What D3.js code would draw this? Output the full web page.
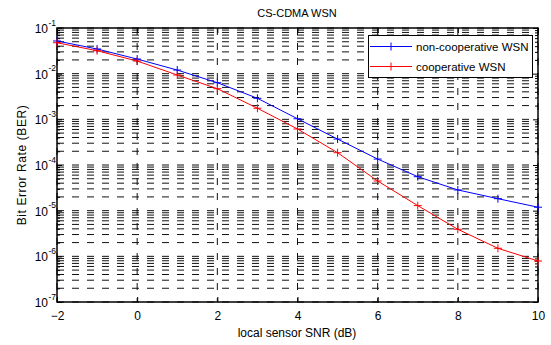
<!DOCTYPE html>
<html>
<head>
<meta charset="utf-8">
<script src="https://d3js.org/d3.v7.min.js"></script>
<style>
  body { margin: 0; background: #fff; font-family: "Liberation Sans", Arial, sans-serif; }
  svg text { fill: #000; }
</style>
</head>
<body>
<svg id="chart" width="551" height="345"></svg>
<script>
// SNR values (dB)
const snr = [-2, -1, 0, 1, 2, 3, 4, 5, 6, 7, 8, 9, 10];
// BER
const berNonCoop = [0.052, 0.0347, 0.0209, 0.012, 0.00634, 0.00289, 0.00103, 3.7e-4, 1.35e-4, 5.55e-5, 2.84e-5, 1.83e-5, 1.19e-5];
const berCoop = [0.0476, 0.0318, 0.0189, 0.00935, 0.00469, 0.00175, 6.15e-4, 1.86e-4, 4.46e-5, 1.29e-5, 3.91e-6, 1.5e-6, 7.9e-7];
const xTicks = [-2, 0, 2, 4, 6, 8, 10];
const yExps = [-7, -6, -5, -4, -3, -2, -1];
const seriesNames = ["non-cooperative WSN", "cooperative WSN"];
const seriesColors = ["#0000ff", "#ff0000"];

const m = { left: 57, top: 28, right: 538, bottom: 302 };
const svg = d3.select("#chart");

const x = d3.scaleLinear().domain([-2, 10]).range([m.left, m.right]);
const y = d3.scaleLog().domain([1e-7, 1e-1]).range([m.bottom, m.top]);

// grid (minor log grid + major x grid, dashed)
const grid = svg.append("g");
const minorVals = [];
yExps.slice(0, -1).forEach(e => {
  for (let k = 1; k <= 9; k++) minorVals.push(k * Math.pow(10, e));
});
minorVals.push(1e-1);
grid.selectAll("line.h").data(minorVals).enter().append("line")
  .attr("x1", m.left).attr("x2", m.right)
  .attr("y1", d => y(d)).attr("y2", d => y(d))
  .attr("stroke", "#111").attr("stroke-width", 1)
  .attr("stroke-dasharray", "7,8");
grid.selectAll("line.v").data(xTicks).enter().append("line")
  .attr("x1", d => x(d)).attr("x2", d => x(d))
  .attr("y1", m.top).attr("y2", m.bottom)
  .attr("stroke", "#111").attr("stroke-width", 1)
  .attr("stroke-dasharray", "7,8");

// axes
const xAxis = d3.axisBottom(x).tickValues(xTicks).tickSize(-5).tickFormat(d3.format("d"));
svg.append("g").attr("transform", `translate(0,${m.bottom})`).call(xAxis)
  .call(g => g.select(".domain").remove())
  .call(g => g.selectAll("text").attr("y", 9).attr("font-size", 12)
    .attr("font-family", "Liberation Sans, Arial, sans-serif"));
svg.append("g").attr("transform", `translate(0,${m.top})`)
  .call(d3.axisTop(x).tickValues(xTicks).tickSize(-5).tickFormat(""))
  .call(g => g.select(".domain").remove());

const yMajor = yExps.map(e => Math.pow(10, e));
const yMinor = minorVals.filter(v => !yMajor.some(mv => Math.abs(mv - v) / mv < 1e-9));
[[d3.axisLeft, m.left], [d3.axisRight, m.right]].forEach(([ax, pos]) => {
  svg.append("g").attr("transform", `translate(${pos},0)`)
    .call(ax(y).tickValues(yMajor).tickSize(-5).tickFormat(""))
    .call(g => g.select(".domain").remove());
  svg.append("g").attr("transform", `translate(${pos},0)`)
    .call(ax(y).tickValues(yMinor).tickSize(-3).tickFormat(""))
    .call(g => g.select(".domain").remove());
});

// y tick labels 10^e
const yl = svg.append("g");
yExps.forEach(e => {
  yl.append("text").attr("x", 48).attr("y", y(Math.pow(10, e)) + 5)
    .attr("text-anchor", "end").attr("font-size", 12).text("10");
  yl.append("text").attr("x", 48.5).attr("y", y(Math.pow(10, e)) - 2.5)
    .attr("font-size", 8.5).text(String(e));
});

// box
svg.append("rect").attr("x", m.left).attr("y", m.top)
  .attr("width", m.right - m.left).attr("height", m.bottom - m.top)
  .attr("fill", "none").attr("stroke", "#000").attr("stroke-width", 1.5);

// series
const line = d3.line().x((d, i) => x(snr[i])).y(d => y(d));
[berNonCoop, berCoop].forEach((vals, s) => {
  const c = seriesColors[s];
  svg.append("path").datum(vals).attr("d", line)
    .attr("fill", "none").attr("stroke", c).attr("stroke-width", 1);
  svg.append("g").selectAll("path").data(vals).enter().append("path")
    .attr("d", (d, i) => `M${x(snr[i]) - 4},${y(d)}h8M${x(snr[i])},${y(d) - 4}v8`)
    .attr("stroke", c).attr("stroke-width", 1).attr("fill", "none");
});

// legend
const lg = svg.append("g");
lg.append("rect").attr("x", 368.5).attr("y", 35.5).attr("width", 164).attr("height", 42)
  .attr("fill", "#fff").attr("stroke", "#000").attr("stroke-width", 1);
seriesNames.forEach((name, i) => {
  const ly = 46.5 + i * 20;
  lg.append("line").attr("x1", 370).attr("x2", 412).attr("y1", ly).attr("y2", ly)
    .attr("stroke", seriesColors[i]).attr("stroke-width", 1);
  lg.append("path").attr("d", `M387,${ly}h8M391,${ly - 4}v8`)
    .attr("stroke", seriesColors[i]).attr("fill", "none");
  lg.append("text").attr("x", 416).attr("y", ly + 4).attr("font-size", 11.5).text(name);
});

// titles
svg.append("text").attr("x", 297).attr("y", 17).attr("text-anchor", "middle")
  .attr("font-size", 11).text("CS-CDMA WSN");
svg.append("text").attr("x", 297).attr("y", 337).attr("text-anchor", "middle")
  .attr("font-size", 12).text("local sensor SNR (dB)");
svg.append("text").attr("transform", `translate(26,165) rotate(-90)`)
  .attr("text-anchor", "middle").attr("font-size", 12).attr("letter-spacing", 0.6)
  .text("Bit Error Rate (BER)");
</script>
</body>
</html>
